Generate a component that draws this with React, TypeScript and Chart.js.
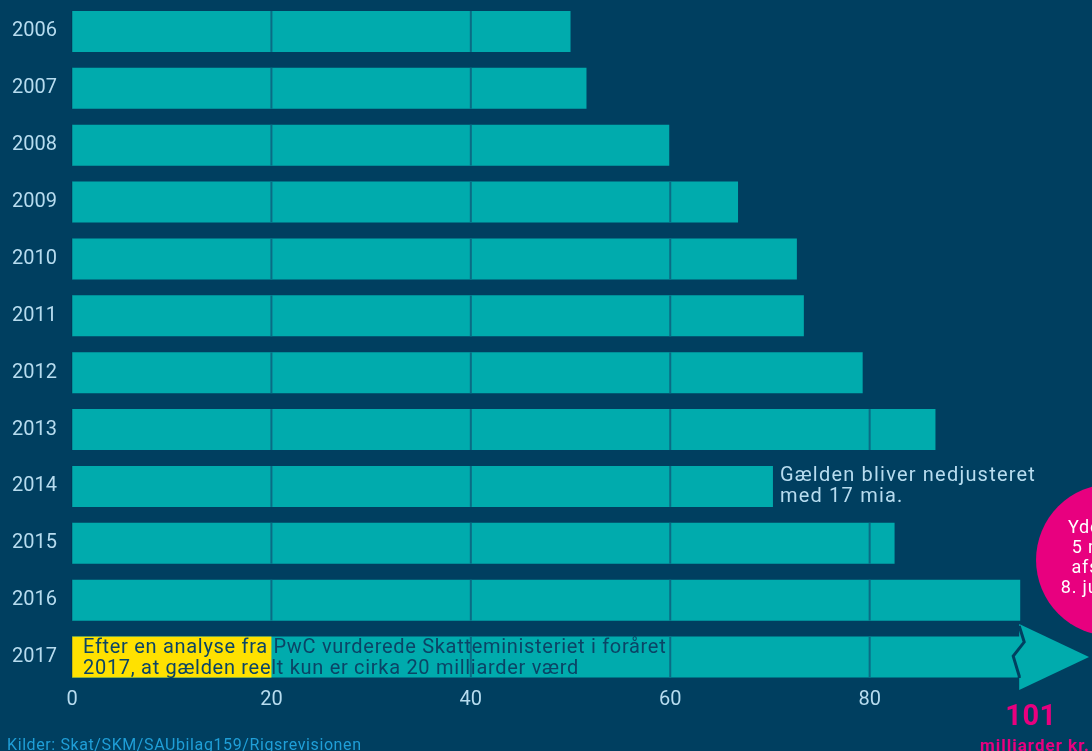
import { useEffect, useRef } from "react";
import { Chart, registerables } from "chart.js";

Chart.register(...registerables);

// ---------- data ----------
const years = ["2006", "2007", "2008", "2009", "2010", "2011", "2012", "2013", "2014", "2015", "2016", "2017"];
const debt = [50.0, 51.6, 59.9, 66.8, 72.7, 73.4, 79.3, 86.6, 70.3, 82.5, 95.1, 101];
const BREAK_AT = 95.1; // where the 2017 bar is broken before the arrow
const xTickValues = [0, 20, 40, 60, 80];
const X_MAX = 102.3;
const PWC_VALUE = 20;
const totalLabel = "101";
const totalUnit = "milliarder kr.";
const note2014 = ["Gælden bliver nedjusteret", "med 17 mia."];
const note2017 = [
  "Efter en analyse fra PwC vurderede Skatteministeriet i foråret",
  "2017, at gælden reelt kun er cirka 20 milliarder værd",
];
const bubbleLines = ["Yderligere", "5 mia. kr.", "afskrevet", "8. juni 2018"];
const sourceText = "Kilder: Skat/SKM/SAUbilag159/Rigsrevisionen";

// ---------- styles ----------
const BG = "#003f60";
const TEAL = "#00abad";
const GRID_ON_BAR = "#0a6c85";
const LABEL = "#b7dcef";
const YELLOW = "#ffe100";
const NAVY_TEXT = "#0b4466";
const PINK = "#e8007f";
const SOURCE = "#1f9fd8";
const FONT = "Roboto, 'DejaVu Sans', sans-serif";

const shown = debt.map((v) => Math.min(v, BREAK_AT));

function setSpacing(ctx: any, px: number) {
  ctx.letterSpacing = `${px}px`;
}

const overlayPlugin = {
  id: "overlay",
  afterDatasetsDraw(chart: any) {
    const ctx = chart.ctx as CanvasRenderingContext2D;
    const xs = chart.scales.x;
    const meta = chart.getDatasetMeta(0);
    const lastIdx = debt.length - 1;
    ctx.save();

    // yellow box on 2017 bar
    const lp = meta.data[lastIdx].getProps(["y", "height"], true);
    const lTop = lp.y - lp.height / 2;
    const x0 = xs.getPixelForValue(0);
    const xP = xs.getPixelForValue(PWC_VALUE);
    ctx.fillStyle = YELLOW;
    ctx.fillRect(x0, lTop, xP - x0, lp.height);

    // grid lines on bars only
    meta.data.forEach((bar: any, i: number) => {
      const p = bar.getProps(["y", "height"], true);
      const top = p.y - p.height / 2;
      ctx.fillStyle = "rgba(0,50,80,0.45)";
      ctx.fillRect(x0 - 1, top, 1.5, p.height);
      xTickValues.forEach((t) => {
        if (t <= 0) return;
        if (shown[i] <= t + 0.3) return;
        if (i === lastIdx && t === PWC_VALUE) return;
        const px = xs.getPixelForValue(t);
        ctx.fillStyle = GRID_ON_BAR;
        ctx.fillRect(px - 1, top, 2, p.height);
      });
    });

    // arrow with break on 2017
    const cy = lp.y;
    const bx = xs.getPixelForValue(BREAK_AT);
    const tip = xs.getPixelForValue(debt[lastIdx]) + 10;
    ctx.fillStyle = TEAL;
    ctx.beginPath();
    ctx.moveTo(bx - 1, cy - 33);
    ctx.lineTo(tip, cy);
    ctx.lineTo(bx - 1, cy + 33);
    ctx.closePath();
    ctx.fill();
    ctx.strokeStyle = BG;
    ctx.lineWidth = 3;
    ctx.lineJoin = "miter";
    ctx.beginPath();
    ctx.moveTo(bx - 1, cy - 31);
    ctx.lineTo(bx + 4, cy - 15);
    ctx.lineTo(bx - 7, cy - 1);
    ctx.lineTo(bx - 1, cy + 19);
    ctx.lineTo(bx - 1, cy + 21);
    ctx.stroke();

    // 2017 note
    ctx.fillStyle = NAVY_TEXT;
    ctx.font = `20px ${FONT}`;
    ctx.textAlign = "left";
    ctx.textBaseline = "alphabetic";
    setSpacing(ctx, 0.7);
    ctx.fillText(note2017[0], x0 + 11, lTop + 16);
    ctx.fillText(note2017[1], x0 + 11, lTop + 37);

    // 2014 note
    const i14 = years.indexOf("2014");
    const p14 = meta.data[i14].getProps(["x", "y", "height"], true);
    const t14 = p14.y - p14.height / 2;
    ctx.fillStyle = LABEL;
    setSpacing(ctx, 1.2);
    ctx.fillText(note2014[0], xs.getPixelForValue(debt[i14]) + 7, t14 + 15);
    ctx.fillText(note2014[1], xs.getPixelForValue(debt[i14]) + 7, t14 + 36);

    ctx.restore();
  },
  afterDraw(chart: any) {
    const ctx = chart.ctx as CanvasRenderingContext2D;
    const xs = chart.scales.x;
    ctx.save();
    // pink bubble
    const cx = xs.getPixelForValue(debt[debt.length - 1]) + 33;
    const cyB = 560;
    ctx.fillStyle = PINK;
    ctx.beginPath();
    ctx.arc(cx, cyB, 76, 0, Math.PI * 2);
    ctx.fill();
    ctx.fillStyle = "#ffffff";
    ctx.font = `18px ${FONT}`;
    ctx.textAlign = "center";
    ctx.textBaseline = "alphabetic";
    setSpacing(ctx, 0.8);
    bubbleLines.forEach((l, k) => ctx.fillText(l, cx, 533 + k * 20));

    // total label
    const tx = xs.getPixelForValue(debt[debt.length - 1]) - 48;
    ctx.fillStyle = PINK;
    ctx.font = `bold 29px ${FONT}`;
    setSpacing(ctx, 0.5);
    ctx.fillText(totalLabel, tx, 725);
    ctx.font = `bold 17px ${FONT}`;
    setSpacing(ctx, 1);
    ctx.fillText(totalUnit, tx + 4, 750.5);

    // source
    ctx.fillStyle = SOURCE;
    ctx.font = `16px ${FONT}`;
    ctx.textAlign = "left";
    setSpacing(ctx, 0.6);
    ctx.fillText(sourceText, 7, 750);
    setSpacing(ctx, 0);
    ctx.restore();
  },
};

export default function App() {
  const ref = useRef<HTMLCanvasElement | null>(null);

  useEffect(() => {
    document.body.style.margin = "0";
    document.body.style.background = BG;
    const canvas = ref.current!;
    const chart = new Chart(canvas, {
      type: "bar",
      data: {
        labels: years,
        datasets: [
          {
            data: shown,
            backgroundColor: TEAL,
            borderWidth: 0,
            categoryPercentage: 0.72,
            barPercentage: 1,
          },
        ],
      },
      options: {
        indexAxis: "y",
        animation: false,
        responsive: false,
        devicePixelRatio: 1,
        layout: { padding: { top: 3, bottom: 0, left: 0, right: 0 } },
        plugins: { legend: { display: false }, tooltip: { enabled: false } },
        scales: {
          x: {
            type: "linear",
            min: 0,
            max: X_MAX,
            grid: { display: false, drawTicks: false },
            border: { display: false },
            afterFit: (s: any) => {
              s.height = 65.5;
              s.paddingRight = 0;
            },
            afterBuildTicks: (s: any) => {
              s.ticks = xTickValues.map((v) => ({ value: v }));
            },
            ticks: {
              color: LABEL,
              font: { family: FONT, size: 20 },
              padding: 2,
              maxRotation: 0,
              callback: (v: any) => String(v),
            },
          },
          y: {
            type: "category",
            grid: { display: false, drawTicks: false },
            border: { display: false },
            afterFit: (s: any) => {
              s.width = 72;
              s.paddingTop = 0;
              s.paddingBottom = 0;
            },
            ticks: {
              color: LABEL,
              font: { family: FONT, size: 20 },
              padding: 15,
            },
          },
        },
      },
      plugins: [overlayPlugin],
    });
    return () => chart.destroy();
  }, []);

  return (
    <div style={{ position: "absolute", left: 0, top: 0, width: 1092, height: 751, background: BG, overflow: "hidden" }}>
      <canvas ref={ref} width={1092} height={751} style={{ display: "block", width: 1092, height: 751 }} />
    </div>
  );
}
